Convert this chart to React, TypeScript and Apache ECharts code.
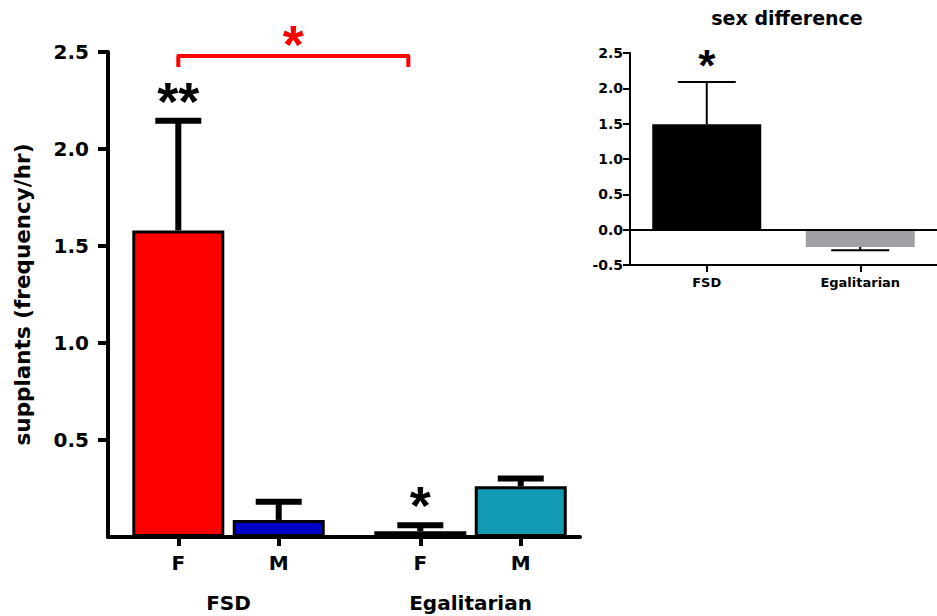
import React, { useEffect, useRef } from "react";
import * as echarts from "echarts";

// ---------- data ----------
const groups = ["FSD", "Egalitarian"];
const sexes = ["F", "M"];
const mainMeans = [1.58, 0.088, 0.03, 0.262];
const mainSem = [0.565, 0.094, 0.03, 0.04];
const mainColors = ["#ff0000", "#0000c8", "#f08080", "#139ab3"];
const mainStars = ["**", "", "*", ""];
const mainYTicks = [0.5, 1.0, 1.5, 2.0, 2.5];
const bracketFrom = 0;
const bracketTo = 2;
const bracketLevel = 2.48;
const bracketLabel = "*";

const diffCats = ["FSD", "Egalitarian"];
const diffMeans = [1.49, -0.245];
const diffSem = [0.6, 0.045];
const diffColors = ["#000000", "#a0a0a4"];
const diffStars = ["*", ""];

// ---------- layout helpers ----------
const FONT = '"DejaVu Sans", Verdana, sans-serif';
const STAR_FONT = '"Liberation Sans", Arial, sans-serif';
const GROUP_STEP = 2.41;
const pos = (i: number) => Math.floor(i / 2) * GROUP_STEP + (i % 2);
const barPositions = mainMeans.map((_, i) => pos(i));
const barLabels = mainMeans.map((_, i) => sexes[i % 2]);
const groupCenters = groups.map((_, g) => (pos(g * 2) + pos(g * 2 + 1)) / 2);
const nearestIdx = (arr: number[], v: number) => {
  let best = -1;
  let bd = 1e9;
  arr.forEach((a, i) => {
    const d = Math.abs(a - v);
    if (d < bd) {
      bd = d;
      best = i;
    }
  });
  return bd < 1e-6 ? best : -1;
};

function errorRenderer(lineW: number, capHalf: number) {
  return (params: any, api: any) => {
    const x = api.value(0);
    const m = api.value(1);
    const e = api.value(2);
    const end = m >= 0 ? m + e : m - e;
    const p0 = api.coord([x, m]);
    const p1 = api.coord([x, end]);
    return {
      type: "group",
      children: [
        {
          type: "line",
          shape: { x1: p0[0], y1: p0[1], x2: p1[0], y2: p1[1] },
          style: { stroke: "#000", lineWidth: lineW },
        },
        {
          type: "line",
          shape: { x1: p1[0] - capHalf, y1: p1[1], x2: p1[0] + capHalf, y2: p1[1] },
          style: { stroke: "#000", lineWidth: lineW },
        },
      ],
    };
  };
}

function starRenderer(stars: string[], size: number, gap: number) {
  return (params: any, api: any) => {
    const txt = stars[params.dataIndex];
    if (!txt) return null;
    const p = api.coord([api.value(0), api.value(1)]);
    return {
      type: "text",
      x: p[0],
      y: p[1] - gap,
      style: {
        text: txt,
        align: "center",
        verticalAlign: "middle",
        font: `bold ${size}px ${STAR_FONT}`,
        fill: "#000",
      },
    };
  };
}

export default function App() {
  const ref = useRef<HTMLDivElement>(null);
  useEffect(() => {
    if (!ref.current) return;
    const chart = echarts.init(ref.current, undefined, { renderer: "svg" });
    const xMin = -0.7;
    const xMax = 4.0;
    const option: any = {
      animation: false,
      backgroundColor: "#ffffff",
      textStyle: { fontFamily: FONT },
      graphic: [
        {
          type: "text",
          x: 787,
          y: 18,
          style: {
            text: "sex difference",
            align: "center",
            verticalAlign: "middle",
            font: `bold 19px ${FONT}`,
            fill: "#000",
          },
        },
      ],
      grid: [
        { left: 108, top: 52, width: 472, height: 485 },
        { left: 630, top: 53, width: 320, height: 212 },
      ],
      xAxis: [
        {
          gridIndex: 0,
          type: "value",
          min: xMin,
          max: xMax,
          splitLine: { show: false },
          axisLine: { show: true, onZero: false, lineStyle: { color: "#000", width: 4 } },
          axisTick: {
            show: true,
            customValues: barPositions,
            length: 9,
            lineStyle: { color: "#000", width: 4 },
          },
          axisLabel: {
            customValues: barPositions,
            formatter: (v: number) => {
              const i = nearestIdx(barPositions, v);
              return i >= 0 ? barLabels[i] : "";
            },
            fontFamily: FONT,
            fontWeight: "bold",
            fontSize: 20,
            color: "#000",
            margin: 16,
          },
        },
        {
          gridIndex: 0,
          type: "value",
          min: xMin,
          max: xMax,
          position: "bottom",
          splitLine: { show: false },
          axisLine: { show: false, onZero: false },
          axisTick: { show: false },
          axisLabel: {
            customValues: groupCenters,
            formatter: (v: number) => {
              const i = nearestIdx(groupCenters, v);
              return i >= 0 ? groups[i] : "";
            },
            fontFamily: FONT,
            fontWeight: "bold",
            fontSize: 20,
            color: "#000",
            margin: 56,
          },
        },
        {
          gridIndex: 1,
          type: "category",
          data: diffCats,
          axisLine: { show: true, onZero: false, lineStyle: { color: "#000", width: 2 } },
          axisTick: { show: true, alignWithLabel: true, length: 7, lineStyle: { color: "#000", width: 2 } },
          axisLabel: {
            fontFamily: FONT,
            fontWeight: "bold",
            fontSize: 13,
            color: "#000",
            margin: 11,
          },
        },
      ],
      yAxis: [
        {
          gridIndex: 0,
          type: "value",
          min: 0,
          max: 2.5,
          interval: 0.5,
          splitLine: { show: false },
          axisLine: { show: true, onZero: false, lineStyle: { color: "#000", width: 4 } },
          axisTick: {
            show: true,
            customValues: mainYTicks,
            length: 10,
            lineStyle: { color: "#000", width: 4 },
          },
          axisLabel: {
            customValues: mainYTicks,
            formatter: (v: number) => v.toFixed(1),
            fontFamily: FONT,
            fontWeight: "bold",
            fontSize: 20,
            color: "#000",
            margin: 19,
          },
          name: "supplants (frequency/hr)",
          nameLocation: "middle",
          nameGap: 75,
          nameTextStyle: { fontFamily: FONT, fontWeight: "bold", fontSize: 21.5, color: "#000" },
        },
        {
          gridIndex: 1,
          type: "value",
          min: -0.5,
          max: 2.5,
          interval: 0.5,
          splitLine: { show: false },
          axisLine: { show: true, onZero: false, lineStyle: { color: "#000", width: 2 } },
          axisTick: { show: true, length: 7, lineStyle: { color: "#000", width: 2 } },
          axisLabel: {
            formatter: (v: number) => v.toFixed(1),
            fontFamily: FONT,
            fontWeight: "bold",
            fontSize: 14,
            color: "#000",
            margin: 7,
          },
        },
      ],
      series: [
        {
          type: "bar",
          xAxisIndex: 0,
          yAxisIndex: 0,
          barWidth: 92,
          data: mainMeans.map((v, i) => ({
            value: [pos(i), v],
            itemStyle: { color: mainColors[i], borderColor: "#000", borderWidth: 3 },
          })),
        },
        {
          type: "custom",
          xAxisIndex: 0,
          yAxisIndex: 0,
          clip: false,
          data: mainMeans.map((m, i) => [pos(i), m, mainSem[i]]),
          renderItem: errorRenderer(6, 23),
          z: 3,
        },
        {
          type: "custom",
          xAxisIndex: 0,
          yAxisIndex: 0,
          clip: false,
          data: mainMeans.map((m, i) => [pos(i), m + mainSem[i]]),
          renderItem: starRenderer(mainStars, 54, 20),
          z: 4,
        },
        {
          type: "custom",
          xAxisIndex: 0,
          yAxisIndex: 0,
          clip: false,
          data: [[pos(bracketFrom), pos(bracketTo), bracketLevel]],
          renderItem: (params: any, api: any) => {
            const a = api.coord([api.value(0), api.value(2)]);
            const b = api.coord([api.value(1), api.value(2)]);
            const x0 = a[0];
            const x1 = b[0] - 12;
            const y = a[1];
            const drop = 11;
            return {
              type: "group",
              children: [
                {
                  type: "polyline",
                  shape: { points: [[x0, y + drop], [x0, y], [x1, y], [x1, y + drop]] },
                  style: { stroke: "#ff0000", lineWidth: 4, fill: "none", lineJoin: "round" },
                },
                {
                  type: "text",
                  x: (x0 + x1) / 2,
                  y: y - 12,
                  style: {
                    text: bracketLabel,
                    align: "center",
                    verticalAlign: "middle",
                    font: `bold 54px ${STAR_FONT}`,
                    fill: "#ff0000",
                  },
                },
              ],
            };
          },
          z: 4,
        },
        {
          type: "bar",
          xAxisIndex: 2,
          yAxisIndex: 1,
          barWidth: 109,
          data: diffMeans.map((v, i) => ({ value: v, itemStyle: { color: diffColors[i] } })),
          markLine: {
            silent: true,
            symbol: "none",
            label: { show: false },
            lineStyle: { color: "#000", width: 2, type: "solid" },
            data: [{ yAxis: 0 }],
          },
        },
        {
          type: "custom",
          xAxisIndex: 2,
          yAxisIndex: 1,
          clip: false,
          data: diffMeans.map((m, i) => [i, m, diffSem[i]]),
          renderItem: errorRenderer(2, 29),
          z: 3,
        },
        {
          type: "custom",
          xAxisIndex: 2,
          yAxisIndex: 1,
          clip: false,
          data: diffMeans.map((m, i) => [i, m + diffSem[i]]),
          renderItem: starRenderer(diffStars, 44, 16),
          z: 4,
        },
      ],
    };
    chart.setOption(option);
    return () => chart.dispose();
  }, []);
  return (
    <div
      ref={ref}
      style={{ position: "fixed", left: 0, top: 0, width: 937, height: 616, background: "#fff" }}
    />
  );
}
